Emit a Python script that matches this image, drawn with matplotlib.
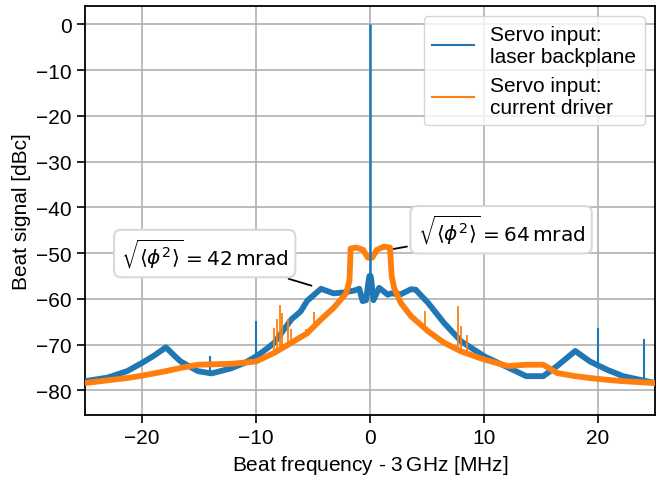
import matplotlib
matplotlib.use("Agg")
import matplotlib.pyplot as plt
from matplotlib.lines import Line2D
import numpy as np

plt.rcParams['font.family'] = ['Liberation Sans', 'DejaVu Sans']

# beat note spectra, frequency offset from 3 GHz in MHz, signal in dBc
freq_backplane = [-25, -23, -21.3, -20, -19, -17.9, -17, -16.6, -15.1, -13.9, -12.2, -11, -10,
                  -9, -8.4, -6.9, -6.1, -5.5, -4.3, -3.2, -2.3, -1.4, -0.94, -0.65, -0.35,
                  -0.12, -0.05, 0.05, 0.12, 0.3, 0.8, 1.56, 1.85, 2.7, 3.6, 4.0, 5.1, 6.5,
                  8.0, 10.05, 12.1, 13.7, 15.2, 16.4, 18.0, 19.3, 20.8, 22.2, 25]
sig_backplane = [-78.0, -77.2, -75.8, -74.0, -72.5, -70.6, -72.8, -73.7, -75.8, -76.3, -75.2,
                 -74.0, -72.6, -70.8, -69.6, -64.5, -62.8, -60.4, -57.8, -58.8, -58.6, -58.2,
                 -57.8, -60.5, -60.3, -56.0, -55.0, -55.0, -56.0, -60.3, -57.6, -59.1, -58.8,
                 -59.0, -57.9, -58.0, -60.9, -65.3, -69.3, -72.6, -75.0, -76.9, -76.9, -74.7,
                 -71.4, -73.7, -75.5, -76.9, -78.4]
spike_f_backplane = [-14.0, -10.0, 20.0, 24.0]
spike_top_backplane = [-72.4, -64.9, -66.4, -68.7]
carrier_f = 0.0
carrier_top = 0.0

freq_driver = [-25, -21.3, -20, -17.9, -16.6, -15.1, -12.2, -10, -8.4, -6.9, -5.5, -4.3, -3.2,
               -2.1, -1.8, -1.7, -1.2, -0.6, -0.2, 0, 0.2, 0.6, 1.2, 1.75, 1.9, 2.1, 2.7,
               3.6, 5.1, 6.5, 8.0, 10.05, 12.1, 13.7, 15.2, 16.4, 18.0, 19.3, 20.8, 22.2, 25]
sig_driver = [-78.4, -77.3, -76.8, -75.8, -75.1, -74.4, -74.2, -73.7, -71.8, -69.6, -67.5,
              -64.5, -62.0, -58.8, -56.0, -49.0, -48.8, -49.3, -51.0, -51.0, -51.0, -49.3,
              -48.6, -48.8, -55.0, -57.5, -60.9, -63.8, -67.1, -69.6, -71.5, -73.3, -74.7,
              -74.4, -74.4, -76.2, -76.9, -77.3, -77.7, -78.0, -78.4]
spike_f_driver = [-8.4, -8.2, -7.9, -7.7, -7.2, -6.95, -5.6, -4.9, 4.8, 7.7, 8.0, 8.5]
spike_top_driver = [-66.4, -64.5, -61.3, -63.1, -64.5, -66.6, -66.7, -62.9, -62.7, -61.5,
                    -66.0, -68.0]

label_backplane = "Servo input:\nlaser backplane"
label_driver = "Servo input:\ncurrent driver"
c_blue = "#1f77b4"
c_orange = "#ff7f0e"

fig = plt.figure(figsize=(6.64, 4.81), dpi=100)
ax = fig.add_axes([0.128, 0.135, 0.8585, 0.8505])

ax.plot(freq_backplane, sig_backplane, color=c_blue, lw=4.2, zorder=3)
base = np.interp(spike_f_backplane, freq_backplane, sig_backplane)
ax.vlines(spike_f_backplane, base, spike_top_backplane, color=c_blue, lw=1.5, zorder=3)

ax.plot(freq_driver, sig_driver, color=c_orange, lw=4.2, zorder=4)
base = np.interp(spike_f_driver, freq_driver, sig_driver)
ax.vlines(spike_f_driver, base, spike_top_driver, color=c_orange, lw=1.3, zorder=4)

# carrier on top of everything
ax.vlines(carrier_f, -58, carrier_top, color=c_blue, lw=1.8, zorder=5)

ax.set_xlim(-25, 25)
ax.set_ylim(-85.4, 4.0)
ax.set_xticks([-20, -10, 0, 10, 20])
ax.set_yticks(np.arange(-80, 1, 10))
ax.grid(True, color="#b0b0b0", lw=1.2)
ax.set_axisbelow(True)
ax.tick_params(labelsize=15, length=6, width=1.2)
for s in ax.spines.values():
    s.set_linewidth(1.3)

ax.set_xlabel(r"Beat frequency - 3$\,$GHz [MHz]", fontsize=15)
ax.set_ylabel("Beat signal [dBc]", fontsize=15)

handles = [Line2D([], [], color=c_blue, lw=1.5), Line2D([], [], color=c_orange, lw=1.5)]
ax.legend(handles, [label_backplane, label_driver], loc="upper right", fontsize=15)

box = dict(boxstyle="round,pad=0.35", fc="white", ec="0.85", lw=1.5)
ax.annotate(r"$\sqrt{\langle\phi^2\rangle} = 42\,\mathrm{mrad}$", xy=(-4.9, -57.3),
            xytext=(-14.5, -50.1), ha="center", va="center", fontsize=14.5, bbox=box,
            arrowprops=dict(arrowstyle="-", color="black", lw=1.3), zorder=6)
ax.annotate(r"$\sqrt{\langle\phi^2\rangle} = 64\,\mathrm{mrad}$", xy=(1.84, -49.2),
            xytext=(11.5, -44.9), ha="center", va="center", fontsize=14.5, bbox=box,
            arrowprops=dict(arrowstyle="-", color="black", lw=1.3), zorder=6)

fig.savefig("out.png", dpi=100)
